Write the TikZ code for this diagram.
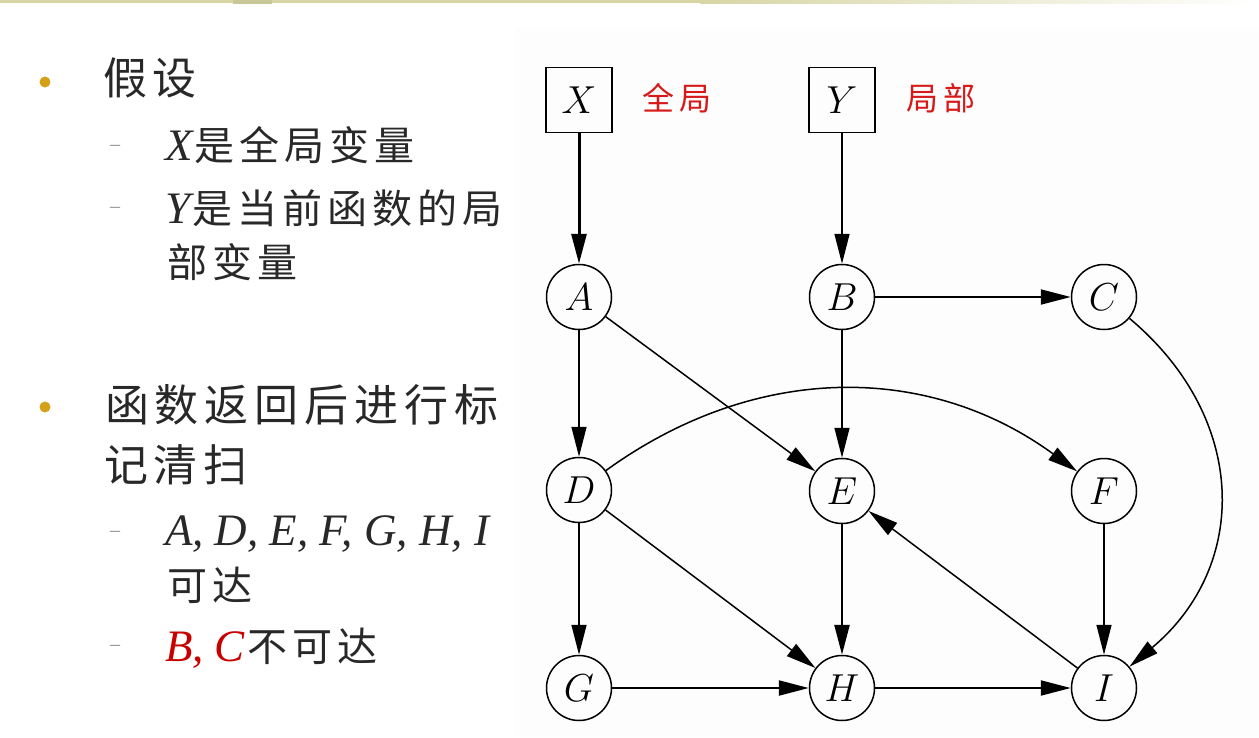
\RequirePackage{fix-cm}
\documentclass[tikz,border=0pt]{standalone}
\usepackage[no-math]{fontspec}
\setmainfont{Liberation Serif}
\newfontfamily\cjk{Noto Sans CJK SC}
\usetikzlibrary{arrows.meta}
\definecolor{txt}{RGB}{40,40,40}
\definecolor{bul}{RGB}{212,160,23}
\definecolor{redc}{RGB}{200,0,0}
\definecolor{lblred}{RGB}{215,25,25}
\definecolor{topline}{RGB}{214,214,165}
\definecolor{topdark}{RGB}{200,200,150}
\newlength\cjw
\def\cjsp#1{\ifx#1\relax\else\makebox[\cjw][c]{#1}\expandafter\cjsp\fi}
\newcommand\mainf{\cjk\fontsize{44}{50}\selectfont\setlength\cjw{50pt}}
\newcommand\subf{\cjk\fontsize{40}{45}\selectfont\setlength\cjw{45pt}}
\newcommand\lat[1]{{\rmfamily\itshape\fontsize{45}{45}\selectfont #1}}
\tikzset{
  lt/.style={inner sep=0pt, outer sep=0pt, text=txt, anchor=west},
  dashmark/.style={inner sep=0pt, text=black!45, font=\rmfamily\fontsize{20}{20}\selectfont},
  vbox/.style={draw, line width=1.5pt, minimum width=66pt, minimum height=65pt, inner sep=0pt, font=\fontsize{39}{39}\selectfont},
  vcirc/.style={draw, circle, line width=1.5pt, minimum size=65pt, inner sep=0pt, font=\fontsize{39}{39}\selectfont},
  edge/.style={-{Triangle[length=30pt,width=15pt]}, line width=1.5pt},
  redlbl/.style={inner sep=0pt, anchor=west, text=lblred}
}
\begin{document}
\begin{tikzpicture}[x=1pt,y=1pt]
\useasboundingbox (0,0) rectangle (1259,-737);
% top line
\fill[topline] (0,0) rectangle (700,-3);
\shade[left color=topline, right color=white] (700,0) rectangle (1259,-3);
\fill[topdark] (233,0) rectangle (272,-4);
% faint background of graph
\fill[black!0.8] (515,-27) rectangle (1259,-737);
% left text
\fill[bul] (45,-82) circle (5.5pt);
\node[lt] (t1) at (100,-78) {\mainf\cjsp 假设\relax};
\node[dashmark] (d1) at (115,-148) {–};
\node[lt] (t2) at (165,-145) {\subf\lat{X}\cjsp 是全局变量\relax};
\node[dashmark] (d2) at (115,-210) {–};
\node[lt] (t3) at (165,-208) {\subf\lat{Y}\cjsp 是当前函数的局\relax};
\node[lt] (t4) at (165,-262) {\subf\cjsp 部变量\relax};
\fill[bul] (45,-407) circle (5.5pt);
\node[lt] (t5) at (102,-405) {\mainf\cjsp 函数返回后进行标\relax};
\node[lt] (t6) at (101,-465) {\mainf\cjsp 记清扫\relax};
\node[dashmark] (d3) at (115,-534) {–};
\node[lt, anchor=base west] (t7) at (165,-545) {\lat{A, D, E, F, G, H, I}};
\node[lt] (t8) at (165,-585) {\subf\cjsp 可达\relax};
\node[dashmark] (d4) at (115,-648) {–};
\node[lt] (t9) at (165,-648) {\subf{\color{redc}\lat{B, C}}\cjsp 不可达\relax};
% graph nodes
\node[vbox] (X) at (579,-100) {$X$};
\node[vbox] (Y) at (842,-100) {$Y$};
\node[redlbl] (lx) at (640,-98) {\cjk\fontsize{32}{32}\selectfont\setlength\cjw{37pt}\cjsp 全局\relax};
\node[redlbl] (ly) at (904,-98) {\cjk\fontsize{32}{32}\selectfont\setlength\cjw{37pt}\cjsp 局部\relax};
\node[vcirc] (A) at (579,-297) {$A$};
\node[vcirc] (B) at (842,-297) {$B$};
\node[vcirc] (C) at (1104,-297) {$C$};
\node[vcirc] (D) at (579,-490) {$D$};
\node[vcirc] (E) at (842,-491) {$E$};
\node[vcirc] (F) at (1104,-491) {$F$};
\node[vcirc] (G) at (579,-688) {$G$};
\node[vcirc] (H) at (842,-688) {$H$};
\node[vcirc] (I) at (1104,-688) {$I$};
% edges
\draw[edge, line width=3pt] (X) -- (A);
\draw[edge] (Y) -- (B);
\draw[edge, line width=2pt] (B) -- (C);
\draw[edge] (A) -- (D);
\draw[edge] (A) -- (E);
\draw[edge] (B) -- (E);
\draw[edge] (D) -- (G);
\draw[edge] (D) -- (H);
\draw[edge, line width=2.5pt] (E) -- (H);
\draw[edge] (I) -- (E);
\draw[edge] (F) -- (I);
\draw[edge, line width=2.2pt] (G) -- (H);
\draw[edge, line width=2pt] (H) -- (I);
\draw[edge] (D) to[bend left=36] (F);
\draw[edge] (C) to[out=-40, in=40, looseness=1.15] (I);
\end{tikzpicture}
\end{document}
